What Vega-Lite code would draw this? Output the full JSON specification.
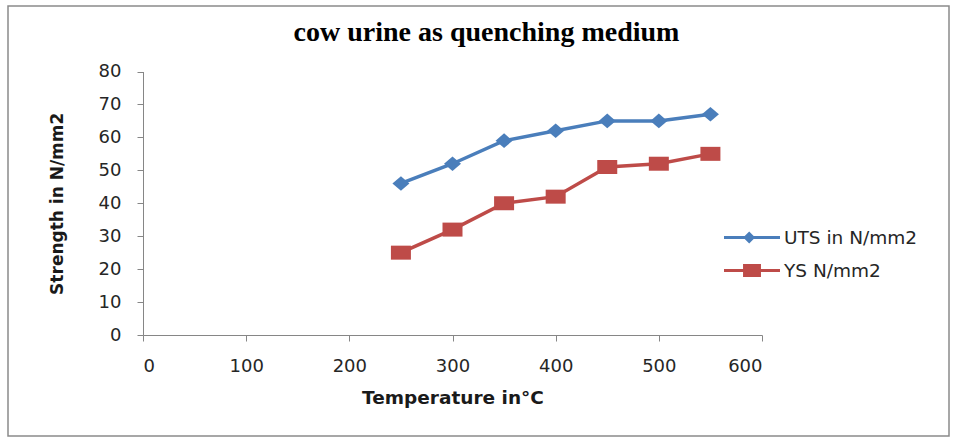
{
  "$schema": "https://vega.github.io/schema/vega-lite/v6.json",
  "autosize": {"type": "none"},
  "padding": {"left": 8, "top": 6, "right": 8, "bottom": 5},
  "width": 941,
  "height": 430,
  "background": "white",
  "config": {
    "view": {"stroke": "#8a8a8a", "strokeWidth": 1.5},
    "axis": {"grid": false}
  },
  "title": {
    "text": "cow urine as quenching medium",
    "font": "Liberation Serif",
    "fontSize": 28,
    "fontWeight": "bold",
    "color": "#000000",
    "anchor": "middle",
    "frame": "group",
    "baseline": "alphabetic",
    "offset": -63,
    "dx": 8
  },
  "data": {
    "values": [
      {"T": 250, "series": "UTS in N/mm2", "v": 46},
      {"T": 300, "series": "UTS in N/mm2", "v": 52},
      {"T": 350, "series": "UTS in N/mm2", "v": 59},
      {"T": 400, "series": "UTS in N/mm2", "v": 62},
      {"T": 450, "series": "UTS in N/mm2", "v": 65},
      {"T": 500, "series": "UTS in N/mm2", "v": 65},
      {"T": 550, "series": "UTS in N/mm2", "v": 67},
      {"T": 250, "series": "YS N/mm2", "v": 25},
      {"T": 300, "series": "YS N/mm2", "v": 32},
      {"T": 350, "series": "YS N/mm2", "v": 40},
      {"T": 400, "series": "YS N/mm2", "v": 42},
      {"T": 450, "series": "YS N/mm2", "v": 51},
      {"T": 500, "series": "YS N/mm2", "v": 52},
      {"T": 550, "series": "YS N/mm2", "v": 55}
    ]
  },
  "encoding": {
    "x": {
      "field": "T",
      "type": "quantitative",
      "scale": {"domain": [0, 600], "range": [135, 754], "nice": false, "zero": false},
      "axis": {
        "orient": "bottom",
        "offset": -101,
        "values": [0, 100, 200, 300, 400, 500, 600],
        "title": "Temperature in°C",
        "titleFont": "DejaVu Sans",
        "titleFontSize": 18.5,
        "titleFontWeight": "bold",
        "titleColor": "#1a1a1a",
        "titlePadding": 13,
        "labelFont": "DejaVu Sans",
        "labelFontSize": 18,
        "labelColor": "#262626",
        "labelPadding": 16,
        "domainColor": "#868686",
        "tickColor": "#868686",
        "tickSize": 6
      }
    },
    "y": {
      "field": "v",
      "type": "quantitative",
      "scale": {"domain": [0, 80], "range": [329, 65.5], "nice": false, "zero": false},
      "axis": {
        "orient": "left",
        "offset": -135,
        "values": [0, 10, 20, 30, 40, 50, 60, 70, 80],
        "title": "Strength in N/mm2",
        "titleFont": "DejaVu Sans",
        "titleFontSize": 17,
        "titleFontWeight": "bold",
        "titleColor": "#1a1a1a",
        "titlePadding": 32,
        "labelFont": "DejaVu Sans",
        "labelFontSize": 18,
        "labelColor": "#262626",
        "labelPadding": 16,
        "domainColor": "#868686",
        "tickColor": "#868686",
        "tickSize": 6
      }
    },
    "color": {
      "field": "series",
      "type": "nominal",
      "scale": {"domain": ["UTS in N/mm2", "YS N/mm2"], "range": ["#4a7ebb", "#be4b48"]}
    }
  },
  "layer": [
    {
      "mark": {"type": "line", "strokeWidth": 3.5},
      "encoding": {
        "color": {
          "field": "series",
          "type": "nominal",
          "scale": {"domain": ["UTS in N/mm2", "YS N/mm2"], "range": ["#4a7ebb", "#be4b48"]},
          "legend": {
            "title": null,
            "orient": "none",
            "legendX": 716,
            "legendY": 215,
            "labelFont": "DejaVu Sans",
            "labelFontSize": 18.5,
            "labelColor": "#262626",
            "symbolSize": 3136,
            "labelOffset": 4,
            "rowPadding": 0,
            "clipHeight": 33,
            "encode": {
              "symbols": {
                "update": {
                  "shape": {"signal": "datum.value === 'UTS in N/mm2' ? 'M-1,-0.054L-0.26,-0.054L-0.1,-0.214L0.06,-0.054L1,-0.054L1,0.054L0.06,0.054L-0.1,0.214L-0.26,0.054L-1,0.054Z' : 'M-1,-0.054L-0.32,-0.054L-0.32,-0.23L0.32,-0.23L0.32,-0.054L1,-0.054L1,0.054L0.32,0.054L0.32,0.23L-0.32,0.23L-0.32,0.054L-1,0.054Z'"},
                  "fill": {"scale": "color", "field": "value"},
                  "stroke": {"value": "transparent"},
                  "strokeWidth": {"value": 0},
                  "opacity": {"value": 1}
                }
              }
            }
          }
        }
      }
    },
    {
      "transform": [{"filter": "datum.series === 'UTS in N/mm2'"}],
      "mark": {"type": "point", "filled": true, "opacity": 1, "size": 400, "shape": "M-0.85,0L0,-0.73L0.85,0L0,0.73Z"},
      "encoding": {
        "color": {
          "field": "series",
          "type": "nominal",
          "scale": {"domain": ["UTS in N/mm2", "YS N/mm2"], "range": ["#4a7ebb", "#be4b48"]},
          "legend": null
        }
      }
    },
    {
      "transform": [{"filter": "datum.series === 'YS N/mm2'"}],
      "mark": {"type": "point", "filled": true, "opacity": 1, "size": 400, "shape": "M-1,-0.7L1,-0.7L1,0.7L-1,0.7Z"},
      "encoding": {
        "color": {
          "field": "series",
          "type": "nominal",
          "scale": {"domain": ["UTS in N/mm2", "YS N/mm2"], "range": ["#4a7ebb", "#be4b48"]},
          "legend": null
        }
      }
    }
  ]
}
